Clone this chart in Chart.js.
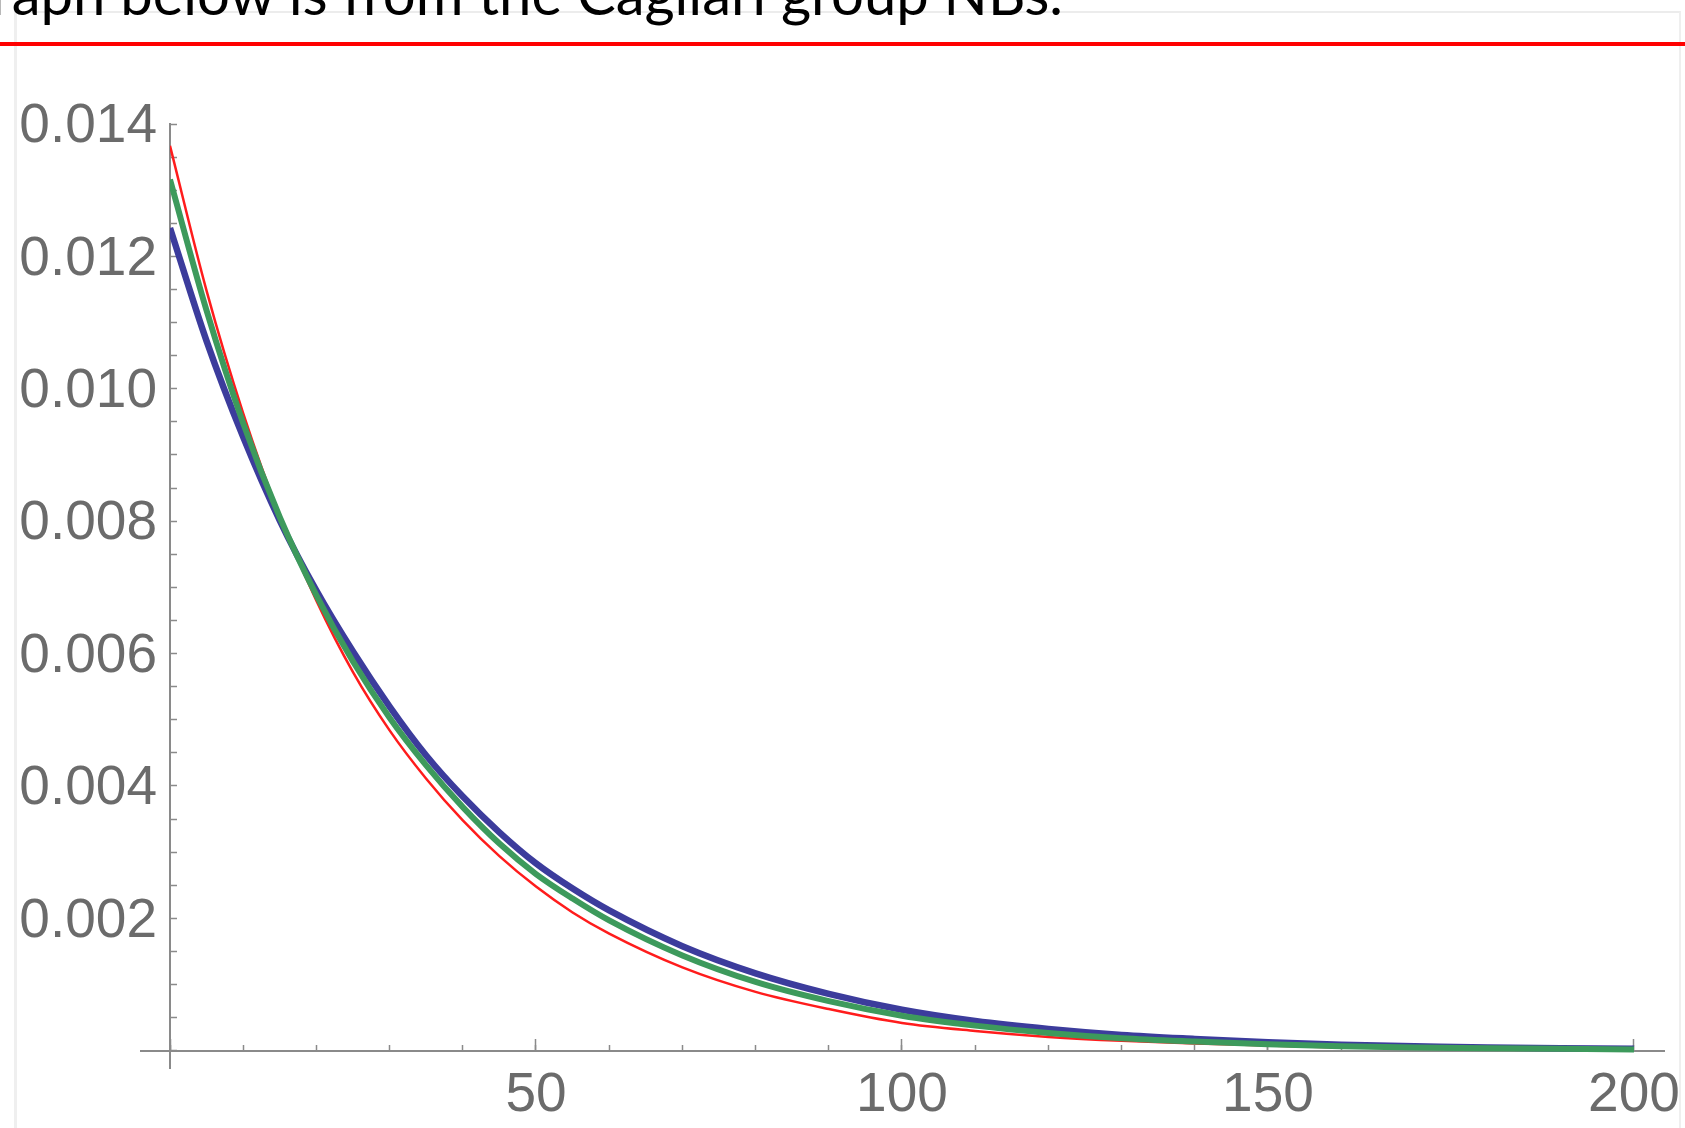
<!DOCTYPE html>
<html>
<head>
<meta charset="utf-8">
<title>Decay curves</title>
<script src="https://cdn.jsdelivr.net/npm/chart.js@4.4.1/dist/chart.umd.min.js"></script>
<style>
  html, body { margin: 0; padding: 0; background: #fff; }
  body { width: 1685px; height: 1128px; position: relative; overflow: hidden; }
  .frame { position: absolute; left: 14px; top: 11px; width: 1662px; height: 1200px;
           border-left: 3px solid #efefef; border-top: 2px solid #ececec; border-right: 2px solid #efefef; }
  .title { position: absolute; right: 622px; top: -36px; font-family: Lato, sans-serif; font-size: 58px;
           line-height: 58px; color: #000; white-space: nowrap; }
  .rule { position: absolute; left: 0; top: 42px; width: 1685px; height: 4px; background: #ff0000; }
  #chart { position: absolute; left: 0; top: 0; }
</style>
</head>
<body>
<div class="frame"></div>
<div class="title">The graph below is from the Cagliari group NBs.</div>
<div class="rule"></div>
<canvas id="chart" width="1685" height="1128"></canvas>
<script>
// sample positions along the horizontal axis
const xValues = [0, 5, 10, 15, 20, 25, 30, 35, 40, 45, 50, 55, 60, 70, 80, 90, 100,
                 110, 120, 130, 140, 150, 160, 170, 180, 190, 200];

const redValues = [0.01367, 0.01148, 0.00963, 0.00808, 0.00680, 0.00572, 0.00484, 0.00411, 0.00348,
                   0.00294, 0.00248, 0.00209, 0.00177, 0.00126, 0.00089, 0.00063, 0.00042,
                   0.00030, 0.00021, 0.00015, 0.00011, 0.00008, 0.00005, 0.00004, 0.00003, 0.00002, 0.00001];
const greenValues = [0.01316, 0.01118, 0.00948, 0.00806, 0.00688, 0.00588, 0.00503, 0.00431, 0.00368,
                     0.00313, 0.00267, 0.00230, 0.00197, 0.00144, 0.00104, 0.00075, 0.00053,
                     0.00038, 0.00027, 0.00019, 0.00014, 0.00010, 0.00007, 0.00005, 0.00004, 0.00003, 0.00002];
const blueValues = [0.01243, 0.01072, 0.00927, 0.00801, 0.00695, 0.00603, 0.00520, 0.00446, 0.00384,
                    0.00330, 0.00283, 0.00245, 0.00212, 0.00158, 0.00117, 0.00086, 0.00062,
                    0.00045, 0.00033, 0.00024, 0.00018, 0.00013, 0.00009, 0.00007, 0.00005, 0.00004, 0.00003];

// labelled ticks, the rest are unlabelled minor ticks
const xTickLabels = [50, 100, 150, 200];
const yTickLabels = [0.002, 0.004, 0.006, 0.008, 0.010, 0.012, 0.014];

const axisGray = '#8a8a8a';
const labelGray = '#6b6b6b';
const tickFont = { family: 'Liberation Sans', size: 55 };

const toPoints = (values) => values.map((v, i) => ({ x: xValues[i], y: v }));
const isLabelled = (list, v) => list.some(t => Math.abs(t - v) < 1e-9);

// x scales sit on y = 0, so they should not take any room in the layout
const flatten = (s) => {
    s.height = 0;
    s.paddingLeft = 0;
    s.paddingRight = 0;
};

// the x axis line runs on a little past the origin to the left
const axisStub = {
    id: 'axisStub',
    afterDraw(chart) {
        const { ctx, chartArea, scales } = chart;
        const y0 = Math.round(scales.y.getPixelForValue(0));
        ctx.save();
        ctx.strokeStyle = axisGray;
        ctx.lineWidth = 2;
        ctx.beginPath();
        ctx.moveTo(chartArea.left - 30, y0);
        ctx.lineTo(chartArea.left, y0);
        ctx.stroke();
        ctx.restore();
    }
};

const ctx = document.getElementById('chart').getContext('2d');

new Chart(ctx, {
    type: 'line',
    data: {
        datasets: [
            { label: 'green', data: toPoints(greenValues), borderColor: '#3d9a5c', borderWidth: 6, order: 0 },
            { label: 'blue', data: toPoints(blueValues), borderColor: '#3c3c9c', borderWidth: 6.5, order: 1 },
            { label: 'red', data: toPoints(redValues), borderColor: '#ff1c1c', borderWidth: 2.5, order: 2 }
        ]
    },
    options: {
        responsive: false,
        animation: false,
        layout: { padding: { left: 0, right: 21, top: 124, bottom: 60 } },
        elements: {
            point: { radius: 0 },
            line: { cubicInterpolationMode: 'monotone', fill: false }
        },
        plugins: { legend: { display: false }, tooltip: { enabled: false } },
        scales: {
            // minor ticks every 10 along the x axis
            x: {
                type: 'linear',
                position: { y: 0 },
                min: 0,
                max: 204.1,
                afterFit: flatten,
                border: { display: true, color: axisGray, width: 2 },
                grid: { drawOnChartArea: false, tickLength: -7, tickWidth: 1.5, tickColor: axisGray },
                ticks: { stepSize: 10, includeBounds: false, autoSkip: false, maxRotation: 0, callback: () => '' }
            },
            // major ticks and labels every 50
            xMajor: {
                type: 'linear',
                axis: 'x',
                position: { y: 0 },
                min: 0,
                max: 204.1,
                afterFit: flatten,
                border: { display: false },
                grid: { drawOnChartArea: false, tickLength: -12, tickWidth: 1.5, tickColor: axisGray },
                ticks: {
                    stepSize: 50, includeBounds: false, autoSkip: false, maxRotation: 0,
                    padding: 24, font: tickFont, color: labelGray,
                    callback: (v) => isLabelled(xTickLabels, v) ? String(v) : ''
                }
            },
            y: {
                type: 'linear',
                position: 'left',
                min: -0.00026,
                max: 0.014,
                afterFit: (s) => { s.width = 170; },
                border: { display: true, color: axisGray, width: 2 },
                grid: { drawOnChartArea: false, tickLength: -7, tickWidth: 1.5, tickColor: axisGray },
                ticks: {
                    stepSize: 0.0005, includeBounds: false, autoSkip: false, maxTicksLimit: 100,
                    padding: 20, labelOffset: 3, font: tickFont, color: labelGray,
                    callback: (v) => isLabelled(yTickLabels, v) ? v.toFixed(3) : ''
                }
            }
        }
    },
    plugins: [axisStub]
});
</script>
</body>
</html>
